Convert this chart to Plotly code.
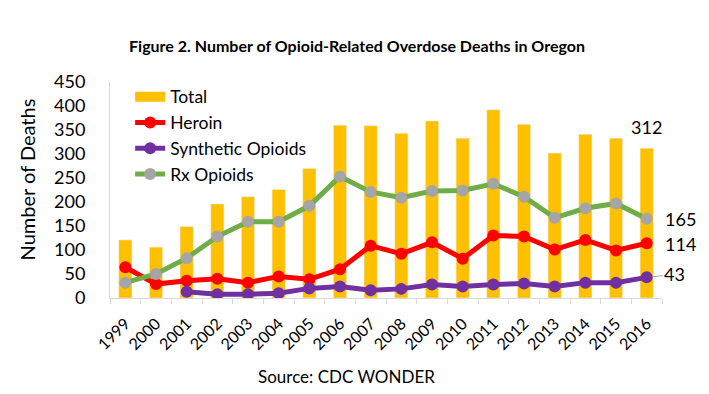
import plotly.graph_objects as go

years = [str(y) for y in range(1999, 2017)]
total = [121, 106, 149, 196, 211, 226, 270, 360, 359, 343, 369, 333, 392, 362, 302, 341, 333, 312]
heroin = [64, 29, 36, 40, 32, 45, 39, 60, 109, 92, 116, 82, 130, 128, 101, 121, 99, 114]
synthetic = [None, None, 13, 8, 8, 10, 20, 24, 16, 19, 28, 24, 28, 30, 24, 32, 32, 43]
rx = [32, 50, 83, 128, 159, 159, 192, 253, 221, 209, 223, 224, 238, 211, 167, 187, 197, 165]
yticks = [0, 50, 100, 150, 200, 250, 300, 350, 400, 450]

FONT = "Lato"
W, H = 701, 386  # page body has an 8px default margin

fig = go.Figure()
fig.add_trace(go.Bar(x=years, y=total, name="Total", marker_color="#FFC000",
                     showlegend=False, legendgroup="total"))
# legend swatch for the bars (wide rectangle like the original)
fig.add_trace(go.Scatter(x=[years[0]], y=[None], name="Total", mode="lines",
                         line=dict(color="#FFC000", width=11), legendgroup="total"))
fig.add_trace(go.Scatter(x=years, y=heroin, name="Heroin", mode="lines+markers",
                         line=dict(color="#FF0000", width=5),
                         marker=dict(color="#FF0000", size=12)))
fig.add_trace(go.Scatter(x=years, y=synthetic, name="Synthetic Opioids", mode="lines+markers",
                         line=dict(color="#7030A0", width=5),
                         marker=dict(color="#7030A0", size=12)))
fig.add_trace(go.Scatter(x=years, y=rx, name="Rx Opioids", mode="lines+markers",
                         line=dict(color="#70AD47", width=5),
                         marker=dict(color="#A5A5A5", size=12)))

fig.update_layout(
    width=W, height=H,
    margin=dict(l=102, r=47, t=74, b=96),
    paper_bgcolor="white", plot_bgcolor="white",
    font=dict(family=FONT, size=17, color="black"),
    title=dict(text="<b>Figure 2. Number of Opioid-Related Overdose Deaths in Oregon</b>",
               x=349 / W, xanchor="center", y=1 - 38 / H, yanchor="middle",
               font=dict(family=FONT, size=16, color="black")),
    showlegend=True,
    legend=dict(x=0.0365, y=1.015, xanchor="left", yanchor="top",
                bgcolor="rgba(0,0,0,0)", font=dict(size=17.5), tracegroupgap=0),
    bargap=0.57,
)
fig.update_yaxes(range=[0, 450], tickvals=yticks, showgrid=False, zeroline=False,
                 showline=True, linecolor="#D9D9D9", linewidth=1,
                 ticks="", ticklabelstandoff=20, tickfont=dict(size=18))
fig.update_xaxes(type="category", categoryorder="array", categoryarray=years,
                 range=[-0.5, len(years) - 0.5],
                 showgrid=False, showline=True, linecolor="#D9D9D9", linewidth=1,
                 ticks="outside", tickson="boundaries", ticklen=5, tickcolor="#D9D9D9",
                 tickangle=-45, tickfont=dict(size=16), ticklabelstandoff=9)

last = len(years) - 1
fig.add_annotation(text="Number of Deaths", textangle=-90, xref="paper", yref="paper",
                   x=-0.150, xanchor="center", y=0.55, yanchor="middle", showarrow=False,
                   font=dict(size=20))
fig.add_annotation(text="Source: CDC WONDER", xref="paper", yref="paper",
                   x=(346 - 110) / 552, xanchor="center", y=-(377 - 298.3) / 216.6,
                   yanchor="middle", showarrow=False, font=dict(size=17))
fig.add_annotation(text="312", x=last, y=356, xref="x", yref="y", showarrow=False,
                   font=dict(size=18))
fig.add_annotation(text="165", x=last, y=rx[-1], xref="x", yref="y", showarrow=False,
                   xanchor="left", xshift=16, font=dict(size=18))
fig.add_annotation(text="114", x=last, y=heroin[-1] - 1, xref="x", yref="y", showarrow=False,
                   xanchor="left", xshift=16, font=dict(size=18))
fig.add_annotation(text="43", x=last, y=synthetic[-1], xref="x", yref="y", showarrow=True,
                   arrowhead=0, arrowcolor="#A5A5A5", arrowwidth=1, ax=28, ay=-3, standoff=6,
                   font=dict(size=18))

fig.write_html("out.html")
